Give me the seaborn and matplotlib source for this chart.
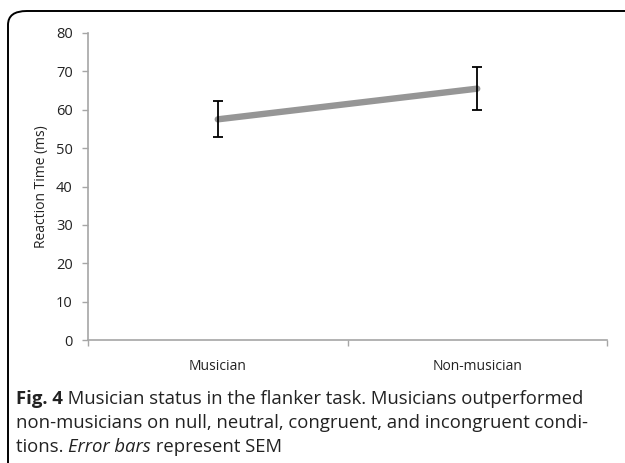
import pandas as pd
import seaborn as sns
import matplotlib.pyplot as plt
from matplotlib.patches import FancyBboxPatch

# Data
groups = ['Musician', 'Non-musician']
reaction_time = [57.5, 65.5]
sem = [4.7, 5.6]
y_ticks = [0, 10, 20, 30, 40, 50, 60, 70, 80]

df = pd.DataFrame({'group': groups, 'rt': reaction_time})

sns.set_style('white')
plt.rcParams['font.family'] = ['Open Sans', 'DejaVu Sans']

fig = plt.figure(figsize=(6.25, 4.63), dpi=100)
ax = fig.add_axes([88 / 625, 1 - 340 / 463, 519 / 625, 307 / 463])

axis_grey = '#a6a6a6'
sns.lineplot(data=df, x='group', y='rt', color='#969696', linewidth=4.6,
             solid_capstyle='round', ax=ax)
ax.errorbar(range(len(groups)), reaction_time, yerr=sem, fmt='none',
            ecolor='black', elinewidth=1.3, capsize=3.8, capthick=1.3, zorder=3)

ax.set_xlim(-0.5, len(groups) - 0.5)
ax.set_ylim(0, 80)
ax.set_yticks(y_ticks)
ax.set_yticklabels([str(t) for t in y_ticks])
ax.set_xticks([-0.5, 0.5, 1.5])
ax.set_xticklabels(['', '', ''])
ax.set_xticks(range(len(groups)), minor=True)
ax.set_xticklabels(groups, minor=True)
ax.tick_params(axis='x', which='major', bottom=True, length=4, width=1,
               color=axis_grey, direction='out')
ax.tick_params(axis='x', which='minor', bottom=True, length=0, pad=14, labelsize=10)
ax.tick_params(axis='y', left=True, length=4, width=1, color=axis_grey,
               direction='out', pad=7, labelsize=10.5, labelcolor='#222222')
ax.tick_params(axis='x', labelcolor='#222222', which='both')
ax.set_xlabel('')
ax.set_ylabel('Reaction Time (ms)', fontsize=10, labelpad=5, color='#222222')

for side in ['top', 'right']:
    ax.spines[side].set_visible(False)
for side in ['left', 'bottom']:
    ax.spines[side].set_color(axis_grey)
    ax.spines[side].set_linewidth(1.2)

# rounded frame around the figure panel (right and bottom run off the page)
frame = FancyBboxPatch((8 / 625, -0.2), 1.5, 1.2 - 11 / 463,
                       boxstyle='round,pad=0,rounding_size=0.03',
                       transform=fig.transFigure, fill=False,
                       edgecolor='black', linewidth=1.4)
fig.patches.append(frame)

# caption with mixed styles
renderer = fig.canvas.get_renderer()


def caption_line(pieces, x0, y0, size=13.3):
    x = x0
    for txt, weight, style in pieces:
        t = fig.text(x, y0, txt, fontsize=size, fontweight=weight, fontstyle=style,
                     ha='left', va='baseline', color='#222222')
        bb = t.get_window_extent(renderer=renderer)
        x += bb.width / fig.bbox.width


cx = 16 / 625
caption_line([('Fig. 4', 'bold', 'normal'),
              (' Musician status in the flanker task. Musicians outperformed', 'normal', 'normal')],
             cx, 1 - 404 / 463)
caption_line([('non-musicians on null, neutral, congruent, and incongruent condi-', 'normal', 'normal')],
             cx, 1 - 428 / 463)
caption_line([('tions. ', 'normal', 'normal'), ('Error bars', 'normal', 'italic'),
              (' represent SEM', 'normal', 'normal')],
             cx, 1 - 452 / 463)

fig.savefig('out.png', dpi=100)
